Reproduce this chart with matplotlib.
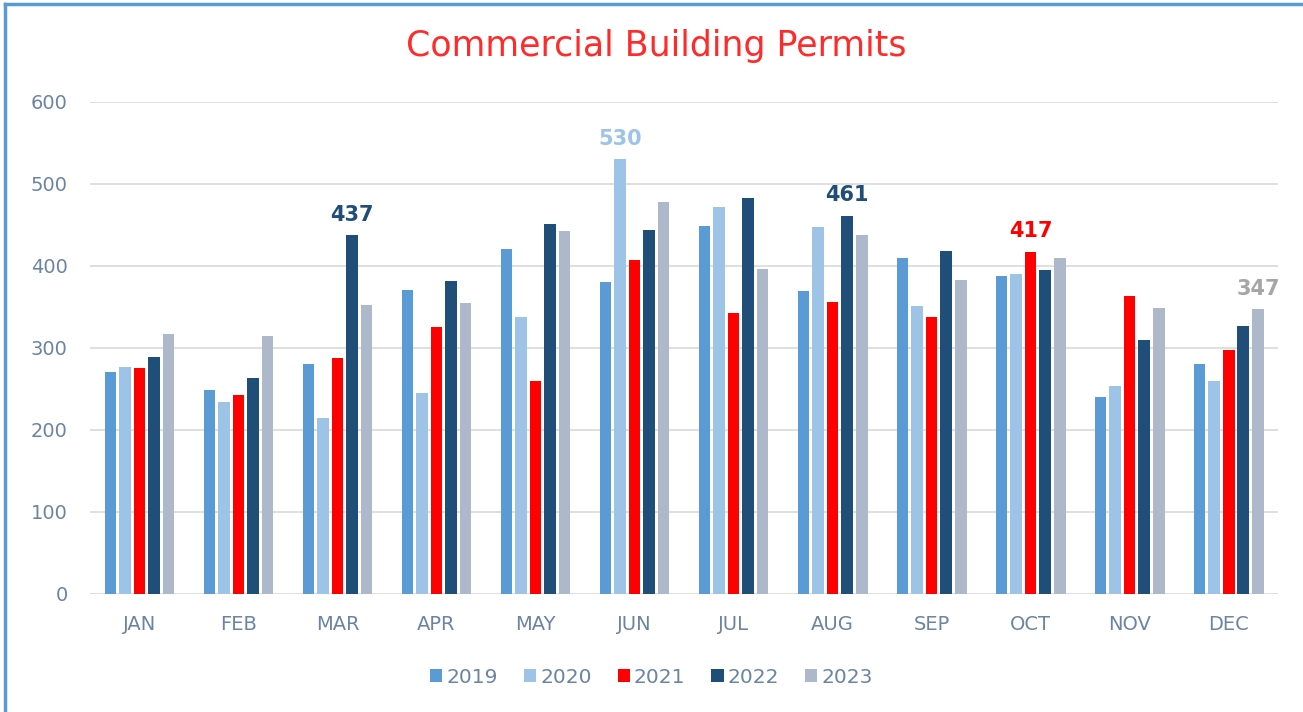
import matplotlib.pyplot as plt
import numpy as np
from matplotlib.lines import Line2D

MONTHS = ["JAN", "FEB", "MAR", "APR", "MAY", "JUN", "JUL", "AUG", "SEP", "OCT", "NOV", "DEC"]
YEARS = ["2019", "2020", "2021", "2022", "2023"]

permits_2019 = [270, 249, 280, 370, 420, 380, 449, 369, 409, 388, 240, 280]
permits_2020 = [277, 234, 214, 245, 337, 530, 472, 447, 351, 390, 253, 260]
permits_2021 = [275, 243, 287, 325, 259, 407, 343, 356, 337, 417, 363, 297]
permits_2022 = [289, 263, 437, 382, 451, 444, 483, 461, 418, 395, 309, 327]
permits_2023 = [317, 315, 352, 355, 443, 478, 396, 438, 383, 410, 349, 347]

# (series index, month index) of highlighted values
HIGHLIGHTS = [(3, 2), (1, 5), (3, 7), (2, 9), (4, 11)]

COLORS = ["#5b9bd5", "#9dc3e6", "#ff0000", "#1f4e79", "#adb9ca"]
LABEL_COLORS = {0: "#5b9bd5", 1: "#9dc3e6", 2: "#ff0000", 3: "#1f4e79", 4: "#a6a6a6"}
TEXT_COLOR = "#6b84a3"

plt.rcParams['font.family'] = ['DejaVu Sans']

series = [permits_2019, permits_2020, permits_2021, permits_2022, permits_2023]
x = np.arange(len(MONTHS))
slot = 0.147
bar_w = 0.117

fig = plt.figure(figsize=(13.03, 7.12), dpi=100)
ax = fig.add_axes([0.069, 0.166, 0.912, 0.691])

for i, vals in enumerate(series):
    ax.bar(x + (i - 2) * slot, vals, width=bar_w, color=COLORS[i], label=YEARS[i], zorder=3)

for s, m in HIGHLIGHTS:
    ax.text(x[m] + (s - 2) * slot, series[s][m] + 13, str(series[s][m]),
            ha='center', va='bottom', fontsize=15, fontweight='bold',
            color=LABEL_COLORS[s], zorder=4)

ax.set_xlim(-0.5, len(MONTHS) - 0.5)
ax.set_ylim(0, 600)
ax.set_yticks(range(0, 601, 100))
ax.set_xticks(x)
ax.set_xticklabels(MONTHS)
ax.grid(axis='y', color='#d9d9d9', linewidth=1.2, zorder=0)
for sp in ax.spines.values():
    sp.set_visible(False)
ax.tick_params(axis='both', length=0, labelsize=14, colors=TEXT_COLOR)
ax.tick_params(axis='y', pad=16)
ax.tick_params(axis='x', pad=15)

fig.text(0.504, 0.935, "Commercial Building Permits", ha='center', va='center',
         fontsize=25, color='#ff2b2b')

leg = fig.legend(loc='center', bbox_to_anchor=(0.5, 0.049), ncol=5, frameon=False,
                 fontsize=14.5, handlelength=0.6, handleheight=0.6, handletextpad=0.2,
                 columnspacing=1.3)
for t in leg.get_texts():
    t.set_color(TEXT_COLOR)

# blue frame on the left and top edges only
fig.add_artist(Line2D([0.004, 0.004], [0, 0.995], transform=fig.transFigure,
                      color='#5b9bd5', linewidth=2.5))
fig.add_artist(Line2D([0.004, 1.0], [0.995, 0.995], transform=fig.transFigure,
                      color='#5b9bd5', linewidth=2.5))

fig.savefig('out.png', dpi=100)
